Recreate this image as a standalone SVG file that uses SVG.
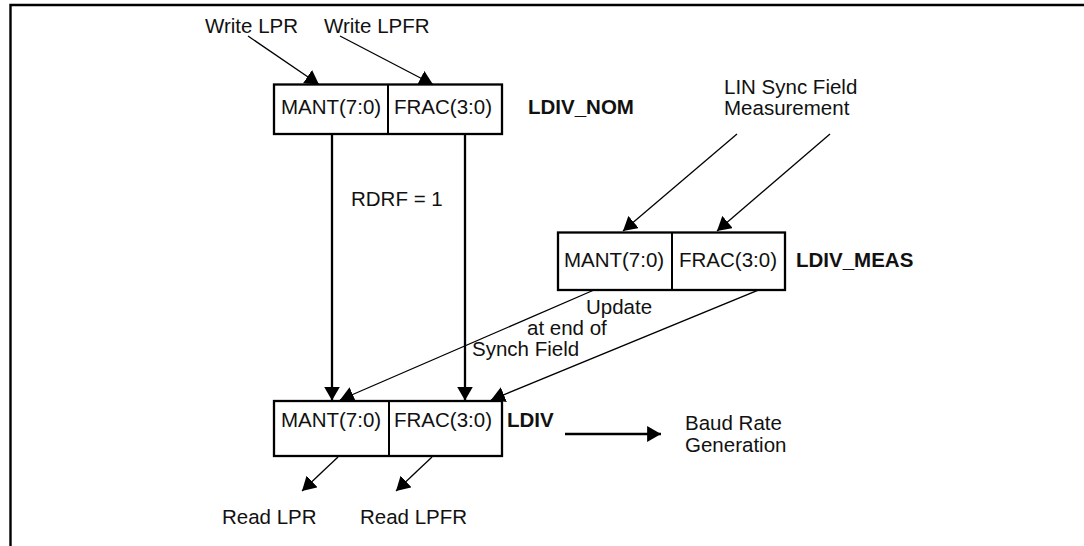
<svg xmlns="http://www.w3.org/2000/svg" width="1084" height="546" viewBox="0 0 1084 546">
  <style>
    text { font-family: "Liberation Sans", Arial, Helvetica, sans-serif; font-size: 20.5px; fill: #111; }
    .b { font-weight: bold; }
    .m { text-anchor: middle; }
    .box { fill: #fff; stroke: #000; stroke-width: 2.3; }
    .div { stroke: #000; stroke-width: 2; }
    .frame { fill: none; stroke: #000; stroke-width: 2.4; }
    .thick { fill: none; stroke: #000; stroke-width: 2.3; }
    .thin { fill: none; stroke: #000; stroke-width: 1.3; }
  </style>
  <defs>
    <marker id="ah" markerUnits="userSpaceOnUse" markerWidth="14" markerHeight="16" viewBox="0 0 13 15" refX="13" refY="7.5" orient="auto">
      <path d="M0,0 L13,7.5 L0,15 z" fill="#000"/>
    </marker>
  </defs>
  <rect width="1084" height="546" fill="#fff"/>
  <g id="frame">
    <path class="frame" d="M10.5,546 V5 H1084"/>
  </g>
  <g id="connectors">
    <line class="thin" x1="248" y1="36" x2="319" y2="84.5" marker-end="url(#ah)"/>
    <line class="thin" x1="340" y1="36" x2="433" y2="84.5" marker-end="url(#ah)"/>
    <line class="thick" x1="332" y1="134" x2="332" y2="400.5" marker-end="url(#ah)"/>
    <line class="thick" x1="465" y1="134" x2="465" y2="400.5" marker-end="url(#ah)"/>
    <line class="thin" x1="737" y1="134" x2="623" y2="231" marker-end="url(#ah)"/>
    <line class="thin" x1="830" y1="134" x2="717" y2="231" marker-end="url(#ah)"/>
    <line class="thin" x1="594" y1="290" x2="340" y2="400" marker-end="url(#ah)"/>
    <line class="thin" x1="773" y1="284" x2="491" y2="400" marker-end="url(#ah)"/>
    <line class="thin" x1="338" y1="457" x2="302" y2="491" marker-end="url(#ah)"/>
    <line class="thin" x1="432" y1="457" x2="396" y2="491" marker-end="url(#ah)"/>
    <line class="thick" x1="565" y1="434" x2="661" y2="434" marker-end="url(#ah)"/>
  </g>
  <g id="write-lpr"><text x="205" y="33">Write LPR</text></g>
  <g id="write-lpfr"><text x="324" y="33">Write LPFR</text></g>
  <g id="ldiv-nom">
    <rect class="box" x="274" y="84.5" width="228" height="49.5"/>
    <line class="div" x1="388" y1="84.5" x2="388" y2="134"/>
    <text class="m" x="331" y="114">MANT(7:0)</text>
    <text class="m" x="443" y="114">FRAC(3:0)</text>
    <text class="b" x="528" y="114">LDIV_NOM</text>
  </g>
  <g id="rdrf-label"><text x="351" y="206">RDRF = 1</text></g>
  <g id="lin-sync">
    <text x="724" y="94">LIN Sync Field</text>
    <text x="724" y="115">Measurement</text>
  </g>
  <g id="ldiv-meas">
    <rect class="box" x="558" y="232.5" width="227" height="57.5"/>
    <line class="div" x1="672" y1="232.5" x2="672" y2="290"/>
    <text class="m" x="614" y="267">MANT(7:0)</text>
    <text class="m" x="728" y="267">FRAC(3:0)</text>
    <text class="b" x="796" y="267">LDIV_MEAS</text>
  </g>
  <g id="update-label">
    <text x="586" y="314">Update</text>
    <text x="527" y="335">at end of</text>
    <text x="472" y="356">Synch Field</text>
  </g>
  <g id="ldiv">
    <rect class="box" x="274" y="401" width="228" height="55"/>
    <line class="div" x1="389" y1="401" x2="389" y2="456"/>
    <text class="m" x="331" y="427">MANT(7:0)</text>
    <text class="m" x="443" y="427">FRAC(3:0)</text>
    <text class="b" x="507" y="427">LDIV</text>
  </g>
  <g id="baud">
    <text x="685" y="430">Baud Rate</text>
    <text x="685" y="452">Generation</text>
  </g>
  <g id="read-lpr"><text x="222" y="524">Read LPR</text></g>
  <g id="read-lpfr"><text x="360" y="524">Read LPFR</text></g>
</svg>
